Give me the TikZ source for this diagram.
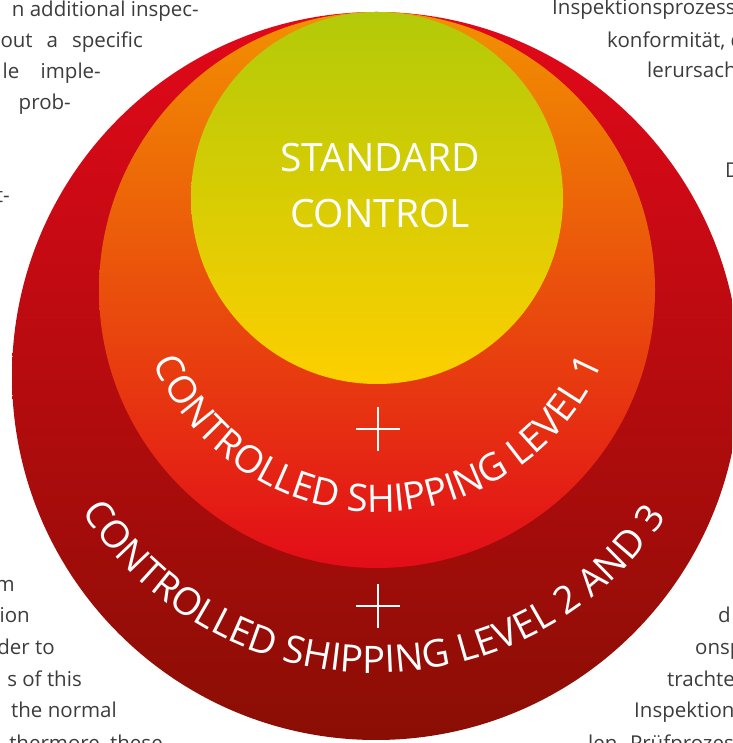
\documentclass[tikz,border=0pt]{standalone}
\usepackage{fontspec}
\setmainfont{Open Sans}
\usepackage{xcolor}
\usepackage{tikz}
\usetikzlibrary{decorations.text,calc}

\definecolor{ringred}{HTML}{E2081A}
\definecolor{ringdark}{HTML}{8A0E04}
\definecolor{midorange}{HTML}{F29100}
\definecolor{midred}{HTML}{E20D18}
\definecolor{coreolive}{HTML}{B3CA08}
\definecolor{coreyellow}{HTML}{FDCF00}
\definecolor{txtgray}{HTML}{3C3C3C}

\newcommand{\arcfont}{\fontsize{38}{44}\selectfont}

\tikzset{
  bigtext/.style={text=white, font=\fontsize{39}{46}\selectfont, inner sep=0pt},
  frag/.style={text=txtgray, font=\fontsize{20.5}{24}\selectfont, inner sep=0pt},
  plusbar/.style={draw=white, line width=2.2pt},
  ringtext/.style={decorate, decoration={text along path, text color=white, text align=center}}
}

\begin{document}
\begin{tikzpicture}[x=1pt,y=1pt]
      \useasboundingbox (0,0) rectangle (732,743);
      \clip (0,0) rectangle (732,743);
      \shade [top color=ringred, bottom color=ringdark] (376,367) circle (364);
      \shade [top color=midorange, bottom color=midred] (377,453) circle (278);
      \shade [top color=coreolive, bottom color=coreyellow] (377,545) circle (186);
      \node [bigtext, anchor=base] (std) at (380,571) {STANDARD};
      \node [bigtext, anchor=base] (ctrl) at (380,515) {CONTROL};
      \path [ringtext, decoration={text={|\arcfont|CONTROLLED SHIPPING LEVEL 1}}] (378,475) ++(200:244) arc [start angle=200, end angle=340, radius=244];
      \path [ringtext, decoration={text={|\arcfont|CONTROLLED SHIPPING LEVEL 2 AND 3}}] (376,418) ++(202:348) arc [start angle=202, end angle=337, radius=348];
      \coordinate (plusone) at (378,314);
      \coordinate (plustwo) at (378,137);
      \draw [plusbar] (plusone) +(-22,0) -- +(22,0) +(0,-22) -- +(0,22);
      \draw [plusbar] (plustwo) +(-22,0) -- +(22,0) +(0,-22) -- +(0,22);
      \node [frag, anchor=base east] (tl1) at (199,726) {n additional inspec-};
      \node [frag, anchor=base east] (tl2) at (143,695) {out\hspace{14pt}a\hspace{14pt}specific};
      \node [frag, anchor=base east] (tl3) at (101,664) {le~~~~imple-};
      \node [frag, anchor=base east] (tl4) at (71,633) {prob-};
      \node [frag, anchor=base east] (tl5) at (10,540) {t-};
      \node [frag, anchor=base west] (tr1) at (552,728) {Inspektionsprozess};
      \node [frag, anchor=base west] (tr2) at (607,695) {konformität, d};
      \node [frag, anchor=base west] (tr3) at (647,665) {lerursach};
      \node [frag, anchor=base west] (tr4) at (725,565) {D};
      \node [frag, anchor=base east] (bl1) at (15,151) {m};
      \node [frag, anchor=base east] (bl2) at (30,120) {ion};
      \node [frag, anchor=base east] (bl3) at (55,88) {der to};
      \node [frag, anchor=base east] (bl4) at (82,56) {s of this};
      \node [frag, anchor=base east] (bl5) at (117,25) {the normal};
      \node [frag, anchor=base east] (bl6) at (163,-7) {thermore, these};
      \node [frag, anchor=base west] (br1) at (718,120) {d};
      \node [frag, anchor=base west] (br2) at (695,88) {onsp};
      \node [frag, anchor=base west] (br3) at (667,56) {trachte};
      \node [frag, anchor=base west] (br4) at (634,25) {Inspektion};
      \node [frag, anchor=base west] (br5) at (588,-7) {len. Prüfprozess};
\end{tikzpicture}
\end{document}
